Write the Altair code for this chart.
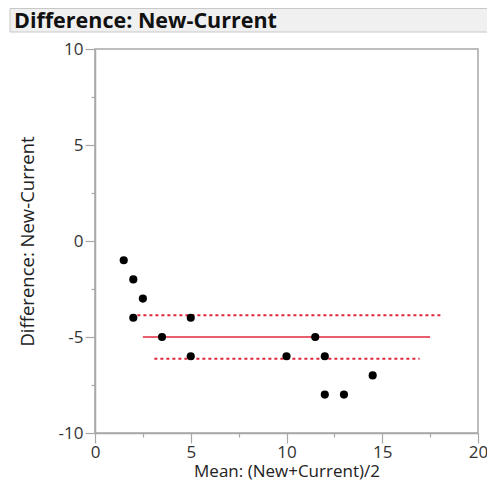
import altair as alt
import pandas as pd

# ---- data ----
mean_vals = [1.5, 2, 2.5, 2, 5, 3.5, 5, 10, 11.5, 12, 14.5, 12, 13]
diff_vals = [-1, -2, -3, -4, -4, -5, -6, -6, -5, -6, -7, -8, -8]

line_names = ["Upper", "Mean", "Lower"]
line_y = [-3.87, -5.0, -6.13]
line_x_start = [1.9, 2.5, 3.1]
line_x_end = [18.1, 17.5, 16.95]
line_dashed = [True, False, True]

x_major = [0, 5, 10, 15, 20]
x_minor = [2.5, 7.5, 12.5, 17.5]
y_major = [-10, -5, 0, 5, 10]
y_minor = [-7.5, -2.5, 2.5, 7.5]

header_text = ["Difference: New-Current"]
x_title = "Mean: (New+Current)/2"
y_title = "Difference: New-Current"

FONT = "Open Sans"
GRAY = "#a8a8a8"
RED = "#e0283c"

pts = pd.DataFrame({"m": mean_vals, "d": diff_vals})
lines = pd.DataFrame({"name": line_names, "y": line_y, "x1": line_x_start,
                      "x2": line_x_end, "dashed": line_dashed})
hdr = pd.DataFrame({"t": header_text})

xs = alt.Scale(domain=[0, 20], nice=False, zero=False)
ys = alt.Scale(domain=[-10, 10], nice=False, zero=False)

major_x = alt.Axis(values=x_major, orient="bottom", title=x_title, tickSize=10,
                   labelPadding=1, labelFlush=False,
                   titleY=43, titleBaseline="alphabetic",
                   titleFontSize=17, labelExpr="'' + datum.value", grid=False)
major_y = alt.Axis(values=y_major, orient="left", title=y_title, tickSize=10,
                   labelPadding=2, labelFlush=False,
                   titleX=-68, titleY=192, titleAngle=270,
                   titleAlign="center", titleBaseline="middle",
                   titleFontSize=18.5, labelExpr="'' + datum.value", grid=False)
minor_x = alt.Axis(values=x_minor, orient="bottom", title=None, tickSize=4,
                   labels=False, domain=False, grid=False)
minor_y = alt.Axis(values=y_minor, orient="left", title=None, tickSize=4,
                   labels=False, domain=False, grid=False)

dashed = alt.Chart(lines).transform_filter("datum.dashed").mark_rule(
    color=RED, strokeWidth=2, strokeDash=[3, 3]
).encode(
    x=alt.X("x1:Q", scale=xs, axis=minor_x),
    x2="x2:Q",
    y=alt.Y("y:Q", scale=ys, axis=minor_y),
)

solid = alt.Chart(lines).transform_filter("!datum.dashed").mark_rule(
    color=RED, strokeWidth=1.6
).encode(
    x=alt.X("x1:Q", scale=xs, axis=None),
    x2="x2:Q",
    y=alt.Y("y:Q", scale=ys, axis=None),
)

points = alt.Chart(pts).mark_circle(size=66, color="black", opacity=1).encode(
    x=alt.X("m:Q", scale=xs, axis=major_x),
    y=alt.Y("d:Q", scale=ys, axis=major_y),
)

header_box = alt.Chart(hdr).mark_rect(
    fill="#f0f0f0", stroke="#c8c8c8", strokeWidth=1
).encode(
    x=alt.value(-85), x2=alt.value(420), y=alt.value(-40.5), y2=alt.value(-17)
)
header_txt = alt.Chart(hdr).mark_text(
    align="left", baseline="middle", font=FONT, fontSize=21.5, fontWeight="bold",
    color="#111111"
).encode(x=alt.value(-81), y=alt.value(-27), text="t:N")

chart = alt.layer(header_box, header_txt, dashed, solid, points).resolve_axis(
    x="independent", y="independent"
).properties(
    width=383, height=384,
    autosize=alt.AutoSizeParams(type="none"),
    padding={"left": 87, "top": 41, "right": 9, "bottom": 47},
).configure_view(
    stroke=GRAY, strokeWidth=1.5
).configure_axis(
    domainColor=GRAY, domainWidth=1.5, tickColor=GRAY, tickWidth=1.2,
    labelColor="#333333", labelFont=FONT, labelFontSize=17,
    titleColor="#222222", titleFont=FONT, titleFontWeight="normal",
)

chart.save("out.html", embed_options={"renderer": "svg", "actions": False})
